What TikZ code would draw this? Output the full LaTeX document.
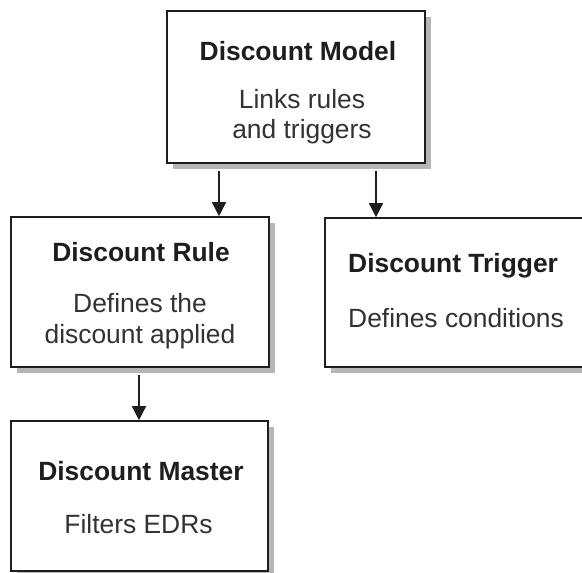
\documentclass[tikz,border=0pt]{standalone}
\usepackage{fontspec}
\setmainfont{Liberation Sans}
\usetikzlibrary{arrows.meta,shadows}
\definecolor{shadowgray}{RGB}{182,182,182}
\definecolor{inkdark}{RGB}{30,30,30}
\definecolor{inktext}{RGB}{50,50,50}
\begin{document}
\begin{tikzpicture}[x=1pt,y=-1pt,
  card/.style={rectangle, draw=inkdark, line width=1.6pt, fill=white, inner sep=0pt,
    drop shadow={shadow xshift=6pt, shadow yshift=-6pt, fill=shadowgray, opacity=1}},
  heading/.style={anchor=base, inner sep=0pt, text=inkdark,
    font=\fontsize{26.4}{30}\selectfont\bfseries},
  body/.style={anchor=base, inner sep=0pt, text=inktext,
    font=\fontsize{26.4}{30}\selectfont},
  link/.style={draw=inkdark, line width=1.5pt, -{Triangle[length=14pt,width=14pt]}}]
\useasboundingbox (0,0) rectangle (582,573);
\clip (0,0) rectangle (582,573);

% boxes
\node[card, minimum width=258pt, minimum height=152pt] (model)   at (296,87)    {};
\node[card, minimum width=258pt, minimum height=150pt] (rule)    at (140,292)   {};
\node[card, minimum width=262pt, minimum height=149pt] (trigger) at (456,292.5) {};
\node[card, minimum width=257pt, minimum height=150pt] (master)  at (139.5,496) {};

% texts
\node[heading] (modelT) at (298,60)  {Discount Model};
\node[body]    (modelA) at (302,108) {Links rules};
\node[body]    (modelB) at (302,138) {and triggers};

\node[heading] (ruleT) at (141,261) {Discount Rule};
\node[body]    (ruleA) at (140,312) {Defines the};
\node[body]    (ruleB) at (140,343) {discount applied};

\node[heading, anchor=base west] (trigT) at (348,272) {Discount Trigger};
\node[body, anchor=base west]    (trigA) at (348,327) {Defines conditions};

\node[heading] (masterT) at (141,480)   {Discount Master};
\node[body]    (masterA) at (138.5,533) {Filters EDRs};

% connector columns
\coordinate (c1) at (219,0);
\coordinate (c2) at (376,0);
\coordinate (c3) at (139,0);

\draw[link] ([yshift=-7pt]model.south -| c1) -- (rule.north -| c1);
\draw[link] ([yshift=-7pt]model.south -| c2) -- (trigger.north -| c2);
\draw[link] ([yshift=-7pt]rule.south -| c3) -- (master.north -| c3);
\end{tikzpicture}
\end{document}
